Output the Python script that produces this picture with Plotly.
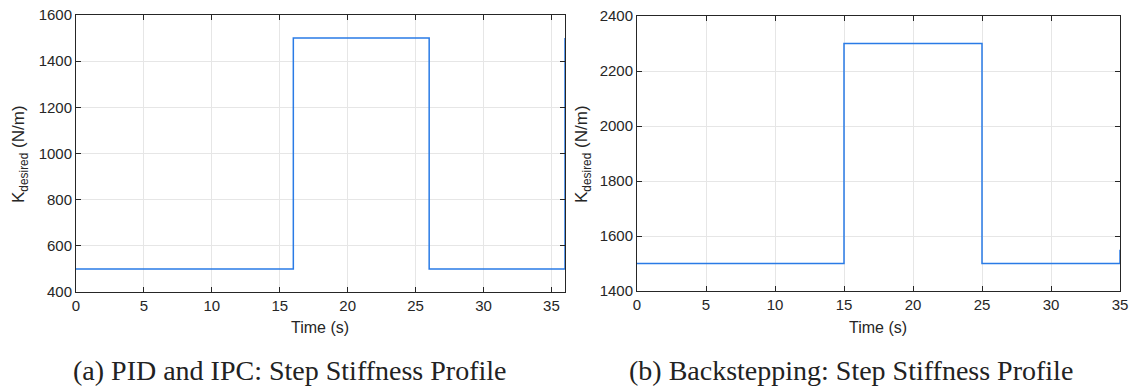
import plotly.graph_objects as go

# Data
t_a = [0, 16, 16, 26, 26, 36, 36]
k_a = [500, 500, 1500, 1500, 500, 500, 1500]
t_b = [0, 15, 15, 25, 25, 35, 35]
k_b = [1500, 1500, 2300, 2300, 1500, 1500, 1550]
xticks_a = [0, 5, 10, 15, 20, 25, 30, 35]
yticks_a = [400, 600, 800, 1000, 1200, 1400, 1600]
xticks_b = [0, 5, 10, 15, 20, 25, 30, 35]
yticks_b = [1400, 1600, 1800, 2000, 2200, 2400]
captions = ["(a) PID and IPC: Step Stiffness Profile", "(b) Backstepping: Step Stiffness Profile"]

W, H = 1136, 388
LINE = "#2a7be6"
AX = "#262626"
GRID = "#e6e6e6"
TICKFONT = dict(family="Liberation Sans, Arial, sans-serif", size=15, color="#262626")

fig = go.Figure()
fig.add_trace(go.Scatter(x=t_a, y=k_a, mode="lines", line=dict(color=LINE, width=1.5),
                         xaxis="x", yaxis="y", showlegend=False, cliponaxis=True))
fig.add_trace(go.Scatter(x=t_b, y=k_b, mode="lines", line=dict(color=LINE, width=1.5),
                         xaxis="x2", yaxis="y2", showlegend=False, cliponaxis=True))

def ax(dom, rng, ticks, anchor):
    return dict(domain=dom, range=rng, tickvals=ticks, ticks="inside", ticklen=5,
                tickcolor=AX, showline=True, linecolor=AX, linewidth=1, mirror="ticks",
                showgrid=True, gridcolor=GRID, gridwidth=1, zeroline=False,
                tickfont=TICKFONT, anchor=anchor, fixedrange=True, automargin=False)

xa = [76 / W, 565 / W]
xb = [637 / W, 1120 / W]
ya = [1 - 292 / H, 1 - 15 / H]
yb = [1 - 291 / H, 1 - 16 / H]

fig.update_layout(
    width=W, height=H, autosize=False,
    margin=dict(l=0, r=0, t=0, b=0, pad=0),
    paper_bgcolor="white", plot_bgcolor="white",
    xaxis=ax(xa, [0, 36], xticks_a, "y"),
    yaxis=ax(ya, [400, 1600], yticks_a, "x"),
    xaxis2=ax(xb, [0, 35], xticks_b, "y2"),
    yaxis2=ax(yb, [1400, 2400], yticks_b, "x2"),
)

ann = []
for xc, yc_mid, xcen in [(20, 154, 320), (583, 154, 878)]:
    ann.append(dict(text="K<sub>desired</sub> (N/m)", x=xc / W, y=1 - yc_mid / H, xref="paper", yref="paper",
                    textangle=-90, showarrow=False, xanchor="center", yanchor="middle",
                    font=dict(family="Liberation Sans, Arial, sans-serif", size=17, color="#262626")))
    ann.append(dict(text="Time (s)", x=xcen / W, y=1 - 327 / H, xref="paper", yref="paper",
                    showarrow=False, xanchor="center", yanchor="middle",
                    font=dict(family="Liberation Sans, Arial, sans-serif", size=16, color="#262626")))
for cap, xc in zip(captions, [289, 851]):
    ann.append(dict(text=cap, x=xc / W, y=1 - 370 / H, xref="paper", yref="paper",
                    showarrow=False, xanchor="center", yanchor="middle",
                    font=dict(family="Liberation Serif, Times New Roman, serif", size=28, color="#222222")))
fig.update_layout(annotations=ann)

fig.write_html("out.html")
